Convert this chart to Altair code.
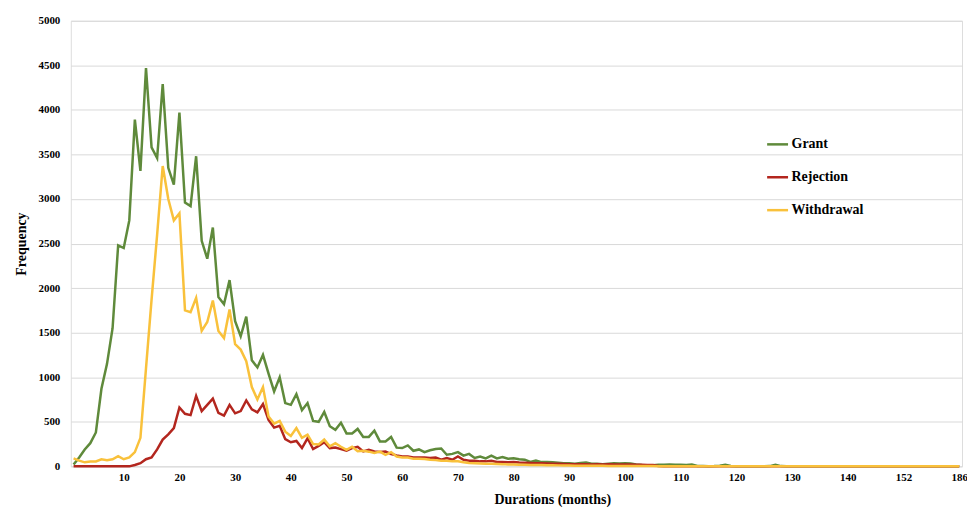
import altair as alt
import pandas as pd

# Duration categories (months) shown on the category axis
durations = list(range(1, 141)) + [141, 142, 143, 144, 145, 147, 148, 150, 151, 152,
                                   154, 156, 158, 161, 165, 168, 172, 175, 180, 186]
tick_labels = ["10", "20", "30", "40", "50", "60", "70", "80", "90", "100",
               "110", "120", "130", "140", "152", "186"]
series_names = ["Grant", "Rejection", "Withdrawal"]
series_colors = ["#5F8A3B", "#B3261E", "#F9C13B"]

grant = [20, 100, 190, 260, 380, 870, 1150, 1550, 2480, 2450,
         2760, 3890, 3315, 4470, 3580, 3460, 4290, 3350, 3160, 3970,
         2960, 2920, 3480, 2530, 2330, 2680, 1900, 1820, 2090, 1630,
         1460, 1680, 1190, 1110, 1250, 1040, 840, 1000, 710, 690,
         810, 630, 710, 510, 500, 610, 450, 410, 490, 370,
         370, 420, 330, 330, 400, 280, 280, 330, 210, 205,
         235, 175, 190, 160, 180, 195, 200, 130, 140, 160,
         120, 140, 95, 110, 90, 120, 90, 105, 85, 90,
         80, 75, 50, 65, 48, 48, 45, 40, 35, 35,
         30, 38, 42, 30, 28, 25, 30, 34, 32, 34,
         32, 22, 15, 10, 12, 18, 18, 20, 18, 18,
         15, 20, 5, 3, 2, 4, 8, 18, 5, 2,
         2, 1, 2, 1, 2, 3, 18, 3, 1, 1,
         0, 1, 0, 0, 1, 0, 0, 0, 0, 0,
         0, 0, 0, 0, 0, 0, 0, 0, 0, 0,
         0, 0, 0, 0, 0, 0, 0, 0, 0, 0]

rejection = [0, 0, 0, 0, 0, 0, 0, 0, 0, 0,
             0, 15, 35, 80, 100, 190, 300, 360, 430, 660,
             590, 575, 790, 620, 690, 760, 600, 570, 690, 595,
             620, 740, 640, 605, 700, 520, 435, 455, 305, 270,
             285, 205, 315, 195, 230, 272, 205, 212, 193, 175,
             205, 220, 167, 186, 167, 160, 167, 138, 123, 112,
             112, 100, 100, 100, 93, 100, 74, 93, 74, 112,
             74, 63, 63, 56, 56, 63, 50, 48, 45, 48,
             42, 40, 38, 36, 35, 32, 30, 28, 26, 25,
             24, 23, 25, 22, 24, 22, 23, 22, 21, 22,
             20, 18, 17, 16, 15, 5, 2, 1, 1, 0,
             0, 0, 0, 0, 0, 0, 0, 0, 0, 0,
             0, 0, 0, 0, 0, 0, 0, 0, 0, 0,
             0, 0, 0, 0, 0, 0, 0, 0, 0, 0,
             0, 0, 0, 0, 0, 0, 0, 0, 0, 0,
             0, 0, 0, 0, 0, 0, 0, 0, 0, 0]

withdrawal = [90, 65, 45, 55, 55, 80, 70, 80, 115, 80,
              100, 160, 320, 1100, 1870, 2600, 3370, 3000, 2760, 2840,
              1750, 1730, 1890, 1520, 1620, 1860, 1520, 1440, 1760, 1370,
              1310, 1180, 890, 750, 890, 560, 480, 510, 390, 340,
              430, 320, 355, 250, 245, 300, 225, 260, 220, 185,
              220, 170, 175, 165, 150, 165, 130, 160, 110, 100,
              100, 86, 86, 82, 75, 70, 63, 63, 56, 56,
              45, 38, 35, 32, 30, 28, 26, 25, 22, 20,
              18, 17, 16, 15, 14, 13, 12, 11, 10, 9,
              8, 8, 7, 7, 6, 6, 5, 5, 4, 4,
              4, 3, 3, 3, 3, 2, 2, 2, 1, 1,
              1, 1, 1, 0, 0, 0, 0, 0, 0, 0,
              0, 0, 0, 0, 0, 0, 0, 0, 0, 0,
              0, 0, 0, 0, 0, 0, 0, 0, 0, 0,
              0, 0, 0, 0, 0, 0, 0, 0, 0, 0,
              0, 0, 0, 0, 0, 0, 0, 0, 0, 0]

rows = []
for name, vals in zip(series_names, [grant, rejection, withdrawal]):
    for d, v in zip(durations, vals):
        rows.append({"duration": str(d), "outcome": name, "frequency": v})
df = pd.DataFrame(rows)

FONT = "Liberation Serif"

chart = alt.Chart(df).mark_line(strokeWidth=2.5).encode(
    x=alt.X("duration:O", sort=[str(d) for d in durations],
            scale=alt.Scale(type="point", padding=0.5),
            axis=alt.Axis(values=tick_labels, labelAngle=0, title="Durations (months)",
                          labelFont=FONT, labelFontWeight="bold", labelFontSize=11,
                          labelColor="#000000", labelPadding=5, ticks=False, domain=False,
                          grid=False, titleFont=FONT, titleFontWeight="bold",
                          titleFontSize=14, titleColor="#000000", titlePadding=10,
                          titleX=483, titleAlign="center")),
    y=alt.Y("frequency:Q", scale=alt.Scale(domain=[0, 5000], nice=False),
            axis=alt.Axis(values=list(range(0, 5001, 500)), format="d", title="Frequency",
                          labelFont=FONT, labelFontWeight="bold", labelFontSize=11,
                          labelColor="#000000", labelPadding=11, ticks=False, domain=False,
                          grid=True, gridColor="#D9D9D9", gridWidth=1,
                          titleFont=FONT, titleFontWeight="bold", titleFontSize=14,
                          titleColor="#000000", titlePadding=9)),
    color=alt.Color("outcome:N", sort=series_names,
                    scale=alt.Scale(domain=series_names, range=series_colors),
                    legend=alt.Legend(orient="none", legendX=697, legendY=112, title=None,
                                      labelFont=FONT, labelFontWeight="bold", labelFontSize=14,
                                      labelColor="#000000", symbolType="stroke",
                                      symbolStrokeWidth=2.5, symbolSize=440,
                                      rowPadding=14, labelOffset=2)),
    order=alt.Order("outcome:N"),
).properties(
    width=894, height=447,
    autosize=alt.AutoSizeParams(type="none"),
    padding={"left": 63, "top": 12, "right": 5, "bottom": 47},
).configure_view(stroke=None).configure(background="white")

chart.save("out.html", embed_options={"renderer": "svg", "actions": False})
